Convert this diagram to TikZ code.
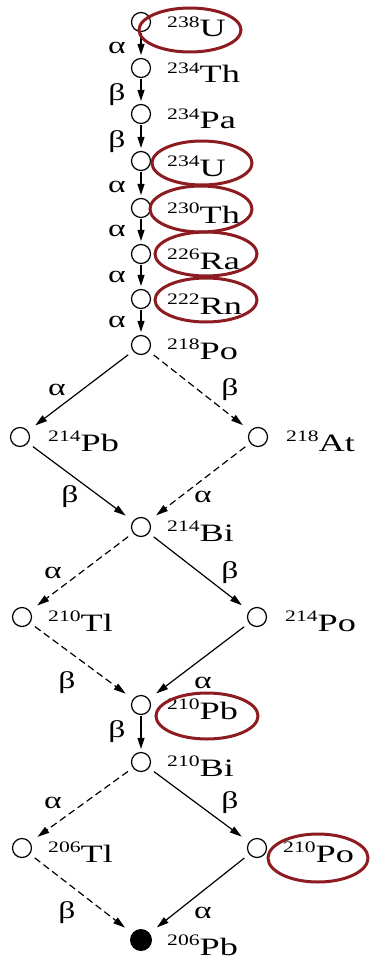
\documentclass[tikz,border=0pt]{standalone}
\usepackage{fontspec}
\setmainfont{Liberation Serif}
\newfontfamily\supfont[FakeStretch=1.35]{Liberation Serif}
\newfontfamily\elfont[FakeStretch=1.45]{Liberation Serif}
\newfontfamily\grfont[FakeStretch=1.4]{Liberation Serif}
\usetikzlibrary{arrows.meta,calc}
\definecolor{ringred}{RGB}{140,28,32}
\newcommand\iso[2]{\raisebox{9.5pt}{\supfont\fontsize{16}{16}\selectfont #1}{\elfont\fontsize{25}{25}\selectfont #2}}
\begin{document}
\begin{tikzpicture}[x=1pt,y=-1pt,
  nuc/.style={circle,draw,line width=1.2pt,minimum size=19pt,inner sep=0pt},
  stable/.style={circle,fill=black,minimum size=22pt,inner sep=0pt},
  lbl/.style={anchor=base west,inner sep=0pt},
  decay/.style={font=\grfont\fontsize{24}{24}\selectfont,inner sep=0pt},
  chain/.style={line width=1.3pt,-{Triangle[length=11pt,width=7pt]},shorten <=1pt,shorten >=3pt},
  diag/.style={line width=1.2pt,-{Triangle[length=12pt,width=7pt]},shorten <=6pt,shorten >=9pt},
  dsh/.style={dash pattern=on 7pt off 4pt},
  ring/.style={draw=ringred,line width=3pt}]
\useasboundingbox (0,0) rectangle (370,960);
% nuclides
\node[nuc] (U238)  at (141,22)  {};
\node[nuc] (Th234) at (141,68)  {};
\node[nuc] (Pa234) at (141,114) {};
\node[nuc] (U234)  at (141,161) {};
\node[nuc] (Th230) at (141,208) {};
\node[nuc] (Ra226) at (141,254) {};
\node[nuc] (Rn222) at (141,299) {};
\node[nuc] (Po218) at (141,345) {};
\node[nuc] (Pb214) at (20,437)  {};
\node[nuc] (At218) at (258,437) {};
\node[nuc] (Bi214) at (141,527) {};
\node[nuc] (Tl210) at (22,617)  {};
\node[nuc] (Po214) at (257,617) {};
\node[nuc] (Pb210) at (141,705) {};
\node[nuc] (Bi210) at (141,762) {};
\node[nuc] (Tl206) at (22,848)  {};
\node[nuc] (Po210) at (257,848) {};
\node[stable] (Pb206) at (141,940) {};
% labels
\node[lbl] (tU238)  at ($(U238)+(26,15)$)  {\iso{238}{U}};
\node[lbl] (tTh234) at ($(Th234)+(26,15)$) {\iso{234}{Th}};
\node[lbl] (tPa234) at ($(Pa234)+(26,15)$) {\iso{234}{Pa}};
\node[lbl] (tU234)  at ($(U234)+(26,15)$)  {\iso{234}{U}};
\node[lbl] (tTh230) at ($(Th230)+(26,15)$) {\iso{230}{Th}};
\node[lbl] (tRa226) at ($(Ra226)+(26,15)$) {\iso{226}{Ra}};
\node[lbl] (tRn222) at ($(Rn222)+(26,15)$) {\iso{222}{Rn}};
\node[lbl] (tPo218) at ($(Po218)+(26,14)$) {\iso{218}{Po}};
\node[lbl] (tPb214) at ($(Pb214)+(28,14)$) {\iso{214}{Pb}};
\node[lbl] (tAt218) at ($(At218)+(28,14)$) {\iso{218}{At}};
\node[lbl] (tBi214) at ($(Bi214)+(26,14)$) {\iso{214}{Bi}};
\node[lbl] (tTl210) at ($(Tl210)+(26,14)$) {\iso{210}{Tl}};
\node[lbl] (tPo214) at ($(Po214)+(28,14)$) {\iso{214}{Po}};
\node[lbl] (tPb210) at ($(Pb210)+(26,14)$) {\iso{210}{Pb}};
\node[lbl] (tBi210) at ($(Bi210)+(26,14)$) {\iso{210}{Bi}};
\node[lbl] (tTl206) at ($(Tl206)+(26,14)$) {\iso{206}{Tl}};
\node[lbl] (tPo210) at ($(Po210)+(26,14)$) {\iso{210}{Po}};
\node[lbl] (tPb206) at ($(Pb206)+(26,15)$) {\iso{206}{Pb}};
% chain arrows
\draw[chain] (U238)  -- (Th234);
\draw[chain] (Th234) -- (Pa234);
\draw[chain] (Pa234) -- (U234);
\draw[chain] (U234)  -- (Th230);
\draw[chain] (Th230) -- (Ra226);
\draw[chain] (Ra226) -- (Rn222);
\draw[chain] (Rn222) -- (Po218);
\draw[chain] (Pb210) -- (Bi210);
% diamond arrows
\draw[diag] (Po218) -- (Pb214);
\draw[diag,dsh] (Po218) -- (At218);
\draw[diag] (Pb214) -- (Bi214);
\draw[diag,dsh] (At218) -- (Bi214);
\draw[diag,dsh] (Bi214) -- (Tl210);
\draw[diag] (Bi214) -- (Po214);
\draw[diag,dsh] (Tl210) -- (Pb210);
\draw[diag] (Po214) -- (Pb210);
\draw[diag,dsh] (Bi210) -- (Tl206);
\draw[diag] (Bi210) -- (Po210);
\draw[diag,dsh] (Tl206) -- (Pb206);
\draw[diag] (Po210) -- (Pb206);
% decay labels
\node[decay] (d1)  at (117,48)  {α};
\node[decay] (d2)  at (117,95)  {β};
\node[decay] (d3)  at (117,142) {β};
\node[decay] (d4)  at (117,187) {α};
\node[decay] (d5)  at (117,231) {α};
\node[decay] (d6)  at (117,277) {α};
\node[decay] (d7)  at (117,322) {α};
\node[decay] (d8)  at (57,390)  {α};
\node[decay] (d9)  at (230,390) {β};
\node[decay] (d10) at (70,497)  {β};
\node[decay] (d11) at (203,497) {α};
\node[decay] (d12) at (53,573)  {α};
\node[decay] (d13) at (230,573) {β};
\node[decay] (d14) at (67,683)  {β};
\node[decay] (d15) at (203,683) {α};
\node[decay] (d16) at (117,732) {β};
\node[decay] (d17) at (53,803)  {α};
\node[decay] (d18) at (230,803) {β};
\node[decay] (d19) at (67,913)  {β};
\node[decay] (d20) at (203,913) {α};
% highlight rings
\draw[ring] (190,30)  ellipse [x radius=51pt, y radius=22pt];
\draw[ring] (202,163) ellipse [x radius=50pt, y radius=22pt];
\draw[ring] (201,209) ellipse [x radius=51pt, y radius=23pt];
\draw[ring] (206,254) ellipse [x radius=51pt, y radius=22pt];
\draw[ring] (206,300) ellipse [x radius=51pt, y radius=22pt];
\draw[ring] (207,716) ellipse [x radius=51pt, y radius=23pt];
\draw[ring] (318,858) ellipse [x radius=50pt, y radius=24pt];
\end{tikzpicture}
\end{document}
